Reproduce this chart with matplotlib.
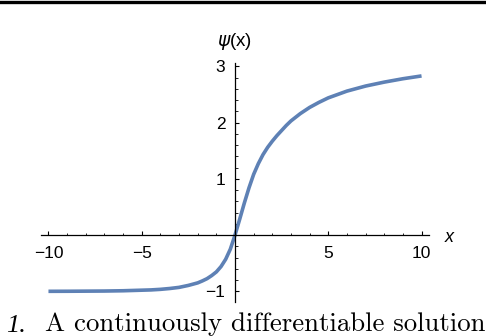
import numpy as np
import matplotlib.pyplot as plt
from matplotlib.ticker import MultipleLocator, FixedLocator
from matplotlib.lines import Line2D

# values
x_vals = [-10, -9, -8, -7, -6, -5, -4.5, -4, -3.5, -3, -2.5, -2, -1.75, -1.5, -1.25, -1,
          -0.75, -0.5, -0.25, 0, 0.25, 0.5, 0.75, 1, 1.25, 1.5, 1.75, 2, 2.25, 2.5,
          2.75, 3, 3.5, 4, 4.5, 5, 5.5, 6, 7, 8, 9, 10]
psi_vals = [-1.0, -0.999, -0.997, -0.995, -0.99, -0.98, -0.975, -0.965, -0.95, -0.93, -0.895, -0.85, -0.815, -0.775, -0.72, -0.655,
            -0.56, -0.43, -0.25, 0, 0.28, 0.57, 0.84, 1.08, 1.27, 1.43, 1.56, 1.67, 1.77, 1.86,
            1.95, 2.03, 2.16, 2.27, 2.36, 2.44, 2.50, 2.56, 2.65, 2.72, 2.78, 2.83]
x_major = [-10, -5, 5, 10]
y_major = [-1, 1, 2, 3]

plt.rcParams['font.family'] = ['Liberation Sans', 'DejaVu Sans']

fig = plt.figure(figsize=(4.86, 3.36), dpi=100)
ax = fig.add_axes([41/486, 1-302/336, 388/486, 239/336])

ax.plot(x_vals, psi_vals, color='#5E81B5', lw=2.6, solid_capstyle='butt',
        solid_joinstyle='round', clip_on=False)
ax.set_xlim(-10.4, 10.4)
ax.set_ylim(-1.19, 3.06)

##------AXES THROUGH THE ORIGIN---------------------------------------
for s in ['top', 'right']:
    ax.spines[s].set_visible(False)
ax.spines['left'].set_position(('data', 0))
ax.spines['bottom'].set_position(('data', 0))
for s in ['left', 'bottom']:
    ax.spines[s].set_linewidth(0.9)

ax.xaxis.set_major_locator(FixedLocator(x_major))
ax.xaxis.set_minor_locator(MultipleLocator(1))
ax.yaxis.set_major_locator(FixedLocator(y_major))
ax.yaxis.set_minor_locator(MultipleLocator(0.2))
ax.tick_params(axis='both', which='major', direction='in', length=3.2, width=0.8, labelsize=12.5)
ax.tick_params(axis='both', which='minor', direction='in', length=1.8, width=0.6)
ax.tick_params(axis='x', which='major', pad=8)
ax.tick_params(axis='y', which='major', pad=7)

fig.text(449/486, 1-237/336, 'x', style='italic', fontsize=13, ha='center', va='center')
fig.text(235/486, 1-42/336, r'$\psi$(x)', fontsize=13.5, ha='center', va='center')

##------PAGE RULE AND CAPTION------------------------------------------
fig.add_artist(Line2D([0, 1], [1-1.5/336, 1-1.5/336], color='black', lw=2.4, transform=fig.transFigure))
fig.text(6/486, 1-331.5/336, '1.', family=['Liberation Serif'], style='italic', fontsize=19, va='baseline')
fig.text(45/486, 1-331.5/336, 'A continuously differentiable solution', family=['cmr10'], fontsize=19.3, va='baseline')

fig.savefig('out.png', dpi=100)
